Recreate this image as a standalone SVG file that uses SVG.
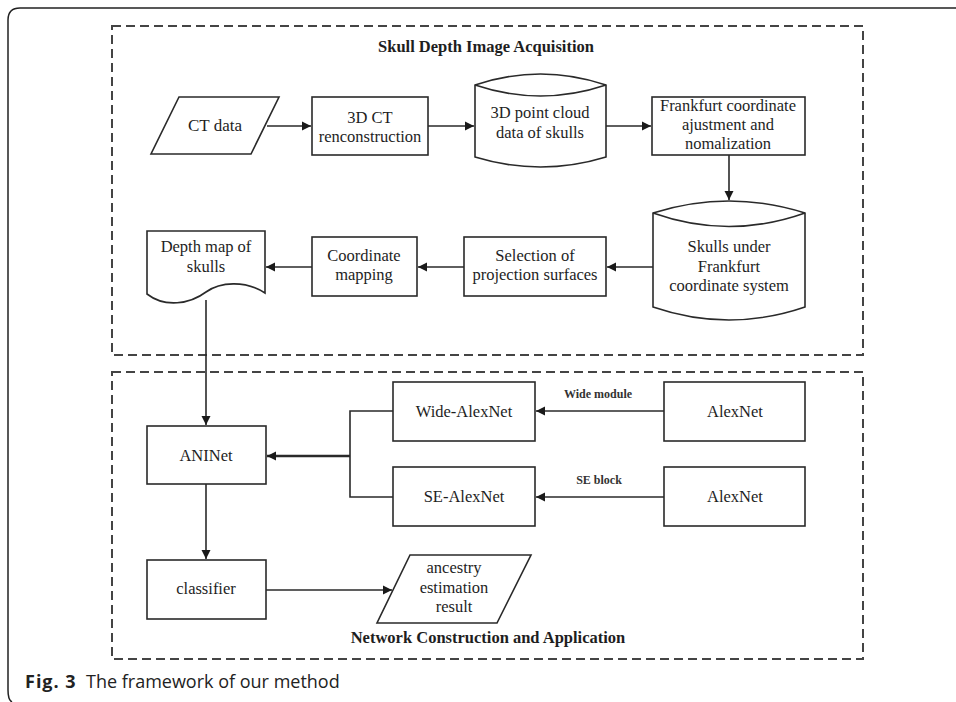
<svg xmlns="http://www.w3.org/2000/svg" width="956" height="702" viewBox="0 0 956 702">
<defs>
<style>
.node{fill:#fff;stroke:#2a2a2a;stroke-width:1.6}
.t{font-family:"Liberation Serif","Times New Roman",serif;font-size:16.5px;fill:#1e1e1e;text-anchor:middle}
.title{font-family:"Liberation Serif","Times New Roman",serif;font-size:16.5px;font-weight:bold;fill:#1e1e1e;text-anchor:middle}
.lab{font-family:"Liberation Serif","Times New Roman",serif;font-size:12px;font-weight:bold;fill:#333;text-anchor:middle}
.dash{fill:none;stroke:#444;stroke-width:2;stroke-dasharray:9 5}
.edge{fill:none;stroke:#2a2a2a;stroke-width:1.6}
.cap{font-family:"Open Sans","Noto Sans",sans-serif;font-size:18px;fill:#222}
</style>
<marker id="ah" markerWidth="10" markerHeight="10" refX="9" refY="5" orient="auto" markerUnits="userSpaceOnUse">
<path d="M0,0.5 L9,5 L0,9.5 Z" fill="#1a1a1a"/>
</marker>
</defs>
<rect width="956" height="702" fill="#fff"/>
<path d="M956 8 H20 Q8 8 8 20 V690 Q8 700 12 702" fill="none" stroke="#222" stroke-width="1.5"/>

<g id="group-acquisition">
<rect class="dash" x="112" y="26" width="751" height="329"/>
<text class="title" x="486" y="52">Skull Depth Image Acquisition</text>
</g>
<g id="group-network">
<rect class="dash" x="112" y="372" width="751" height="287"/>
<text class="title" x="488" y="643">Network Construction and Application</text>
</g>

<g id="ct-data">
<polygon class="node" points="179,97 279,97 251,154 151,154"/>
<text class="t" x="215" y="131" style="font-size:17px">CT  data</text>
</g>
<g id="ct-recon">
<rect class="node" x="312" y="97" width="116" height="58"/>
<text class="t" x="370" y="123">3D CT</text>
<text class="t" x="370" y="142">renconstruction</text>
</g>
<g id="point-cloud">
<path class="node" d="M475 85 Q540.5 63 606 85 V157 Q540.5 177 475 157 Z"/>
<path class="edge" d="M475 85 Q540.5 107 606 85"/>
<text class="t" x="540" y="118">3D point cloud</text>
<text class="t" x="540" y="138">data of skulls</text>
</g>
<g id="frankfurt-adjust">
<rect class="node" x="652" y="97" width="153" height="58"/>
<text class="t" x="728" y="111">Frankfurt coordinate</text>
<text class="t" x="728" y="130">ajustment and</text>
<text class="t" x="728" y="149">nomalization</text>
</g>
<g id="skulls-frankfurt">
<path class="node" d="M653 213 Q729 189 805 213 V307 Q729 333 653 307 Z"/>
<path class="edge" d="M653 213 Q729 240 805 213"/>
<text class="t" x="729" y="252">Skulls  under</text>
<text class="t" x="729" y="272">Frankfurt</text>
<text class="t" x="729" y="291">coordinate system</text>
</g>
<g id="selection">
<rect class="node" x="464" y="237" width="142" height="59"/>
<text class="t" x="535" y="261">Selection of</text>
<text class="t" x="535" y="280">projection surfaces</text>
</g>
<g id="coord-mapping">
<rect class="node" x="312" y="237" width="105" height="59"/>
<text class="t" x="364" y="261">Coordinate</text>
<text class="t" x="364" y="280">mapping</text>
</g>
<g id="depth-map">
<path class="node" d="M147 231 H265 V293 C245 280 220 282 206 292 C190 304 165 308 147 294 Z"/>
<text class="t" x="206" y="252">Depth map of</text>
<text class="t" x="206" y="272">skulls</text>
</g>
<g id="aninet">
<rect class="node" x="147" y="426" width="119" height="58"/>
<text class="t" x="206" y="461">ANINet</text>
</g>
<g id="wide-alexnet">
<rect class="node" x="393" y="382" width="142" height="59"/>
<text class="t" x="464" y="417">Wide-AlexNet</text>
</g>
<g id="se-alexnet">
<rect class="node" x="393" y="467" width="142" height="59"/>
<text class="t" x="464" y="502">SE-AlexNet</text>
</g>
<g id="alexnet-1">
<rect class="node" x="664" y="382" width="141" height="59"/>
<text class="t" x="735" y="417">AlexNet</text>
</g>
<g id="alexnet-2">
<rect class="node" x="664" y="467" width="141" height="59"/>
<text class="t" x="735" y="502">AlexNet</text>
</g>
<g id="classifier">
<rect class="node" x="147" y="560" width="119" height="59"/>
<text class="t" x="206" y="594">classifier</text>
</g>
<g id="result">
<polygon class="node" points="410,555 531,555 497,623 377,623"/>
<text class="t" x="454" y="573">ancestry</text>
<text class="t" x="454" y="593">estimation</text>
<text class="t" x="454" y="612">result</text>
</g>

<g id="connectors">
<line class="edge" x1="267" y1="126" x2="311" y2="126" marker-end="url(#ah)"/>
<line class="edge" x1="428" y1="126" x2="474" y2="126" marker-end="url(#ah)"/>
<line class="edge" x1="606" y1="126" x2="651" y2="126" marker-end="url(#ah)"/>
<line class="edge" x1="729" y1="155" x2="729" y2="200" marker-end="url(#ah)"/>
<line class="edge" x1="653" y1="267" x2="607" y2="267" marker-end="url(#ah)"/>
<line class="edge" x1="464" y1="267" x2="418" y2="267" marker-end="url(#ah)"/>
<line class="edge" x1="312" y1="267" x2="266" y2="267" marker-end="url(#ah)"/>
<line class="edge" x1="206" y1="300" x2="206" y2="425" marker-end="url(#ah)"/>
<path class="edge" d="M393 411 H350 V497 H393"/>
<line class="edge" style="stroke-width:2.4" x1="350" y1="456" x2="267" y2="456" marker-end="url(#ah)"/>
<line class="edge" x1="664" y1="411" x2="536" y2="411" marker-end="url(#ah)"/>
<line class="edge" x1="664" y1="497" x2="536" y2="497" marker-end="url(#ah)"/>
<text class="lab" x="598" y="398">Wide module</text>
<text class="lab" x="599" y="484">SE block</text>
<line class="edge" x1="206" y1="484" x2="206" y2="559" marker-end="url(#ah)"/>
<line class="edge" x1="266" y1="590" x2="392" y2="590" marker-end="url(#ah)"/>
</g>

<text class="cap" x="25" y="688" font-weight="bold" letter-spacing="1">Fig. 3</text>
<text class="cap" x="86" y="688">The framework of our method</text>
</svg>
